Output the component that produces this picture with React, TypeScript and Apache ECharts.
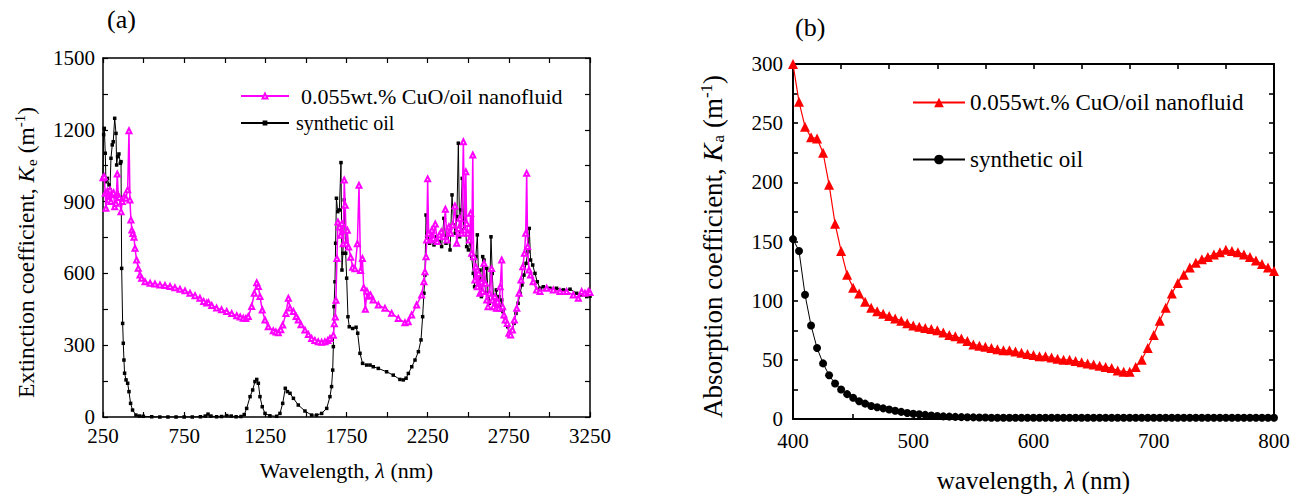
import React, { useEffect, useRef } from 'react';
import * as echarts from 'echarts';

const FONT = "'Liberation Serif', 'Times New Roman', serif";

// Panel (a): extinction coefficient [wavelength nm, Ke m^-1]
const oilA: [number, number][] = [
  [250, 1000], [254, 1180], [258, 1206], [264, 1102], [268, 983], [277, 997], [287, 970], [293, 949],
  [299, 1081], [307, 1137], [313, 1150], [322, 1248], [330, 1185], [334, 1053], [340, 1088], [348, 1099],
  [357, 1060], [361, 1067], [365, 621], [371, 391], [375, 308], [379, 238], [383, 183], [392, 155],
  [402, 141], [410, 106], [420, 57], [432, 29], [453, 8], [475, 4], [498, 3], [550, 1], [600, 0],
  [650, 0], [700, 0], [750, 0], [800, 0], [850, 1], [880, 4], [897, 12], [915, 4], [950, 1], [980, 2],
  [1012, 6], [1040, 4], [1070, 1], [1100, 2], [1120, 10], [1135, 36], [1156, 85], [1172, 113],
  [1186, 148], [1197, 157], [1207, 141], [1217, 85], [1231, 43], [1248, 15], [1278, 5], [1320, 3],
  [1340, 15], [1357, 57], [1373, 120], [1386, 106], [1402, 99], [1423, 78], [1453, 50], [1494, 25],
  [1535, 8], [1566, 8], [1597, 15], [1628, 36], [1648, 85], [1658, 127], [1665, 196], [1669, 294],
  [1673, 461], [1679, 565], [1683, 726], [1688, 914], [1696, 858], [1706, 865], [1716, 1063],
  [1722, 614], [1728, 684], [1736, 907], [1745, 684], [1751, 580], [1759, 419], [1767, 377],
  [1788, 370], [1809, 375], [1819, 350], [1833, 266], [1849, 224], [1874, 217], [1895, 217],
  [1915, 210], [1946, 203], [1997, 189], [2038, 175], [2079, 157], [2100, 155], [2117, 162],
  [2131, 182], [2152, 210], [2172, 238], [2193, 273], [2209, 322], [2219, 419], [2227, 517],
  [2233, 593], [2240, 844], [2248, 768], [2262, 726], [2276, 747], [2289, 719], [2305, 753],
  [2322, 733], [2336, 712], [2350, 830], [2363, 726], [2375, 761], [2388, 698], [2400, 928],
  [2410, 802], [2420, 768], [2430, 837], [2439, 1144], [2447, 753], [2455, 865], [2463, 997],
  [2472, 781], [2480, 830], [2490, 712], [2501, 698], [2511, 740], [2521, 670], [2531, 600],
  [2539, 544], [2547, 670], [2556, 761], [2564, 572], [2572, 614], [2581, 503], [2589, 670],
  [2597, 656], [2606, 517], [2614, 621], [2622, 517], [2630, 475], [2640, 753], [2648, 600],
  [2656, 489], [2664, 461], [2673, 531], [2681, 468], [2689, 503], [2697, 447], [2706, 489],
  [2714, 440], [2722, 419], [2732, 398], [2743, 377], [2753, 350], [2761, 339], [2772, 364],
  [2782, 391], [2794, 433], [2807, 475], [2819, 517], [2831, 552], [2843, 593], [2856, 642],
  [2868, 691], [2876, 788], [2884, 656], [2897, 635], [2911, 600], [2925, 565], [2942, 538],
  [2962, 544], [3003, 538], [3044, 538], [3086, 531], [3127, 534], [3168, 517], [3199, 510],
  [3230, 503], [3250, 505]
];

const nfA: [number, number][] = [
  [250, 1000], [258, 1004], [264, 935], [268, 872], [277, 943], [285, 907], [293, 949], [299, 900],
  [307, 930], [315, 937], [322, 878], [330, 893], [338, 1015], [344, 925], [350, 917], [361, 858],
  [369, 900], [380, 920], [391, 914], [402, 949], [410, 1196], [416, 907], [422, 823], [428, 781],
  [434, 767], [441, 751], [447, 705], [457, 656], [467, 621], [478, 593], [488, 580], [509, 565],
  [540, 559], [570, 556], [601, 552], [632, 549], [663, 545], [693, 540], [724, 534], [755, 527],
  [786, 517], [817, 507], [847, 496], [870, 483], [889, 476], [900, 478], [920, 466], [950, 455],
  [980, 448], [1012, 441], [1043, 432], [1074, 423], [1095, 418], [1114, 413], [1130, 412],
  [1145, 420], [1166, 462], [1182, 517], [1197, 561], [1207, 545], [1217, 503], [1231, 447],
  [1248, 405], [1268, 377], [1299, 360], [1315, 355], [1330, 352], [1345, 365], [1357, 384],
  [1377, 432], [1392, 496], [1402, 455], [1423, 441], [1440, 420], [1453, 405], [1470, 385],
  [1494, 363], [1515, 345], [1535, 328], [1555, 320], [1576, 314], [1597, 312], [1617, 314],
  [1635, 320], [1648, 328], [1669, 342], [1675, 390], [1681, 418], [1685, 488], [1691, 662],
  [1697, 815], [1706, 794], [1714, 759], [1722, 808], [1730, 724], [1736, 990], [1742, 885],
  [1749, 724], [1755, 780], [1763, 710], [1776, 668], [1788, 626], [1802, 619], [1817, 724],
  [1827, 968], [1837, 612], [1848, 662], [1856, 540], [1866, 450], [1876, 525], [1886, 505],
  [1898, 510], [1914, 489], [1946, 468], [1987, 454], [2028, 433], [2069, 412], [2110, 394],
  [2130, 398], [2151, 426], [2182, 468], [2213, 510], [2227, 565], [2233, 607], [2240, 670],
  [2244, 740], [2250, 995], [2256, 768], [2268, 740], [2276, 781], [2285, 747], [2297, 806],
  [2309, 733], [2322, 761], [2334, 774], [2346, 753], [2359, 868], [2369, 740], [2381, 795],
  [2392, 768], [2404, 802], [2418, 882], [2429, 726], [2441, 788], [2449, 830], [2459, 768],
  [2470, 1150], [2478, 781], [2485, 1025], [2490, 809], [2498, 768], [2507, 740], [2515, 851],
  [2521, 684], [2528, 1095], [2533, 670], [2541, 572], [2547, 628], [2556, 544], [2564, 600],
  [2572, 517], [2581, 565], [2589, 524], [2597, 642], [2606, 559], [2614, 489], [2622, 461],
  [2630, 517], [2644, 620], [2648, 489], [2656, 461], [2664, 503], [2673, 454], [2681, 482],
  [2689, 454], [2697, 544], [2706, 656], [2712, 461], [2720, 426], [2728, 405], [2741, 391],
  [2751, 350], [2761, 343], [2772, 364], [2784, 405], [2799, 454], [2813, 517], [2825, 572],
  [2836, 628], [2846, 684], [2854, 768], [2860, 1018], [2866, 712], [2874, 614], [2884, 593],
  [2900, 565], [2921, 531], [2942, 524], [2983, 538], [3024, 531], [3065, 524], [3106, 524],
  [3147, 510], [3178, 496], [3199, 524], [3219, 517], [3240, 524], [3250, 520]
];

// Panel (b): absorption coefficient
const wlB = [400, 405, 410, 415, 420, 425, 430, 435, 440, 445, 450, 455, 460, 465, 470, 475, 480, 485,
  490, 495, 500, 505, 510, 515, 520, 525, 530, 535, 540, 545, 550, 555, 560, 565, 570, 575, 580, 585,
  590, 595, 600, 605, 610, 615, 620, 625, 630, 635, 640, 645, 650, 655, 660, 665, 670, 675, 680, 685,
  690, 695, 700, 705, 710, 715, 720, 725, 730, 735, 740, 745, 750, 755, 760, 765, 770, 775, 780, 785,
  790, 795, 800];
const nfB = [300, 268, 247, 238, 237, 225, 198, 165, 142, 122,
  111, 106, 99, 94, 91, 89, 87, 85, 83, 81,
  79, 78, 77, 76, 75, 73, 71, 70, 68, 66,
  63, 62, 61, 60, 59, 58, 58, 57, 56, 55,
  54, 53, 53, 52, 51, 50, 50, 49, 48, 47,
  46, 45, 44, 43, 41, 40, 40, 44, 50, 60,
  71, 83, 94, 106, 115, 122, 128, 132, 135, 137,
  139, 141, 143, 142, 141, 139, 137, 134, 131, 128,
  125];
const oilB = [152, 142, 105, 79, 60, 47, 37, 30, 25, 21,
  18, 15, 13, 11, 10, 9, 8, 7, 6, 5,
  4.5, 4, 3.5, 3, 2.5, 2.2, 2, 1.8, 1.6, 1.5,
  1.4, 1.3, 1.2, 1.1, 1, 1, 1, 1, 1, 1,
  1, 1, 1, 1, 1, 1, 1, 1, 1, 1,
  1, 1, 1, 1, 1, 1, 1, 1, 1, 1,
  1, 1, 1, 1, 1, 1, 1, 1, 1, 1,
  1, 1, 1, 1, 1, 1, 1, 1, 1, 1,
  1];

const NF_LABEL = '0.055wt.% CuO/oil nanofluid';
const OIL_LABEL = 'synthetic oil';
const legendLabels: Record<string, string> = {
  nf_a: NF_LABEL, oil_a: OIL_LABEL, nf_b: NF_LABEL, oil_b: OIL_LABEL,
};

const plain = (v: number) => String(v);

function richName(size: number, subSize: number, shift: number) {
  return {
    t: { fontFamily: FONT, fontSize: size, color: '#000' },
    i: { fontFamily: FONT, fontSize: size, fontStyle: 'italic', color: '#000' },
    s: { fontFamily: FONT, fontSize: subSize, color: '#000', padding: [shift, 0, 0, 1] },
    p: { fontFamily: FONT, fontSize: subSize, color: '#000', padding: [0, 0, shift, 0] },
  };
}

function mainX(grid: number, min: number, max: number, interval: number, name: string, nameGap: number, fs: number, nameSize: number, lw: number, margin: number) {
  return {
    gridIndex: grid, type: 'value', min, max, interval, position: 'bottom',
    axisLine: { onZero: false, lineStyle: { color: '#000', width: lw } },
    axisTick: { inside: true, length: 5, lineStyle: { color: '#000', width: lw * 0.8 } },
    minorTick: { show: true, splitNumber: 2, length: 5, lineStyle: { color: '#000', width: lw * 0.8 } },
    splitLine: { show: false }, minorSplitLine: { show: false },
    axisLabel: { fontFamily: FONT, fontSize: fs, lineHeight: 16, color: '#000', margin, formatter: plain },
    name, nameLocation: 'middle', nameGap,
    nameTextStyle: { rich: richName(nameSize, Math.round(nameSize * 0.62), 11) },
  };
}

function boxAxis(grid: number, min: number, max: number, interval: number, position: string, lw: number) {
  return {
    gridIndex: grid, type: 'value', min, max, interval, position,
    axisLine: { show: true, onZero: false, lineStyle: { color: '#000', width: lw } },
    axisTick: { show: true, inside: true, length: 5, lineStyle: { color: '#000', width: lw * 0.8 } },
    splitLine: { show: false },
    axisLabel: { show: false },
  };
}

function mainY(grid: number, min: number, max: number, interval: number, name: string, nameGap: number, fs: number, nameSize: number, lw: number, margin: number, namePad: number[]) {
  return {
    gridIndex: grid, type: 'value', min, max, interval, position: 'left',
    axisLine: { show: true, onZero: false, lineStyle: { color: '#000', width: lw } },
    axisTick: { show: true, inside: true, length: 5, lineStyle: { color: '#000', width: lw * 0.8 } },
    minorTick: { show: true, splitNumber: 2, length: 5, lineStyle: { color: '#000', width: lw * 0.8 } },
    splitLine: { show: false }, minorSplitLine: { show: false },
    axisLabel: { fontFamily: FONT, fontSize: fs, lineHeight: 14, padding: [0, 0, 4, 0], color: '#000', margin, formatter: plain },
    name, nameLocation: 'middle', nameGap, nameRotate: 90,
    nameTextStyle: { padding: namePad, rich: richName(nameSize, Math.round(nameSize * 0.62), 12) },
  };
}

export default function App() {
  const ref = useRef<HTMLDivElement>(null);
  useEffect(() => {
    const chart = echarts.init(ref.current!, null, { renderer: 'svg' });
    const option: any = {
      animation: false,
      backgroundColor: '#fff',
      textStyle: { fontFamily: FONT },
      grid: [
        { left: 103, top: 58, width: 487, height: 359, outerBoundsMode: 'none', containLabel: false },
        { left: 793, top: 64, width: 481, height: 355, outerBoundsMode: 'none', containLabel: false },
      ],
      xAxis: [
        mainX(0, 250, 3250, 500, '{t|Wavelength, }{i|λ}{t| (nm)}', 42, 21, 22, 1.5, 11),
        boxAxis(0, 250, 3250, 250, 'top', 1.5),
        mainX(1, 400, 800, 100, '{t|wavelength, }{i|λ}{t| (nm)}', 49, 21, 25, 2, 14),
        boxAxis(1, 400, 800, 40, 'top', 2),
      ],
      yAxis: [
        mainY(0, 0, 1500, 300, '{t|Extinction coefficient, }{i|K}{s|e}{t| (m}{p|-1}{t|)}', 64, 21, 23.5, 1.5, 8, [0, 30, 0, 0]),
        boxAxis(0, 0, 1500, 150, 'right', 1.5),
        mainY(1, 0, 300, 50, '{t|Absorption coefficient, }{i|K}{s|a}{t| (m}{p|-1}{t|)}', 66, 21, 27, 2, 10, [0, 10, 0, 0]),
        boxAxis(1, 0, 300, 25, 'right', 2),
      ],
      legend: [
        {
          orient: 'vertical', left: 240, top: 85, padding: 0,
          itemWidth: 48, itemHeight: 6, itemGap: 6,
          formatter: (n: string) => legendLabels[n],
          textStyle: { fontFamily: FONT, color: '#000' },
          selectedMode: false,
          data: [
            { name: 'nf_a', textStyle: { fontFamily: FONT, fontSize: 22, padding: [0, 0, 0, 7] } },
            { name: 'oil_a', textStyle: { fontFamily: FONT, fontSize: 20, padding: [0, 0, 0, 2] } },
          ],
        },
        {
          orient: 'vertical', left: 912, top: 91, padding: 0,
          itemWidth: 52, itemHeight: 12, itemGap: 34,
          formatter: (n: string) => legendLabels[n],
          textStyle: { fontFamily: FONT, color: '#000', fontSize: 23 },
          selectedMode: false,
          data: [{ name: 'nf_b' }, { name: 'oil_b' }],
        },
      ],
      graphic: [
        { type: 'text', left: 107, top: 6, style: { text: '(a)', font: `26px ${FONT}`, fill: '#000' } },
        { type: 'text', left: 795, top: 14, style: { text: '(b)', font: `26px ${FONT}`, fill: '#000' } },
      ],
      series: [
        {
          name: 'oil_a', type: 'line', xAxisIndex: 0, yAxisIndex: 0, data: oilA,
          symbol: 'rect', symbolSize: 3.5, showAllSymbol: true,
          lineStyle: { color: '#000', width: 1 }, itemStyle: { color: '#000' }, z: 2,
        },
        {
          name: 'nf_a', type: 'line', xAxisIndex: 0, yAxisIndex: 0, data: nfA,
          symbol: 'emptyTriangle', symbolSize: 5, showAllSymbol: true,
          lineStyle: { color: '#ff00ff', width: 1.5 }, itemStyle: { color: '#ff00ff', borderWidth: 1 }, z: 3,
        },
        {
          name: 'oil_b', type: 'line', xAxisIndex: 2, yAxisIndex: 2,
          data: wlB.map((w, i) => [w, oilB[i]]),
          symbol: 'circle', symbolSize: 8, showAllSymbol: true,
          lineStyle: { color: '#000', width: 1 }, itemStyle: { color: '#000' }, z: 2,
        },
        {
          name: 'nf_b', type: 'line', xAxisIndex: 2, yAxisIndex: 2,
          data: wlB.map((w, i) => [w, nfB[i]]),
          symbol: 'triangle', symbolSize: 10, showAllSymbol: true,
          lineStyle: { color: '#ff0000', width: 1.2 }, itemStyle: { color: '#ff0000' }, z: 3,
        },
      ],
    };
    chart.setOption(option);
    return () => chart.dispose();
  }, []);
  return (
    <div
      ref={ref}
      style={{ position: 'absolute', left: 0, top: 0, width: 1301, height: 494, background: '#fff' }}
    />
  );
}
